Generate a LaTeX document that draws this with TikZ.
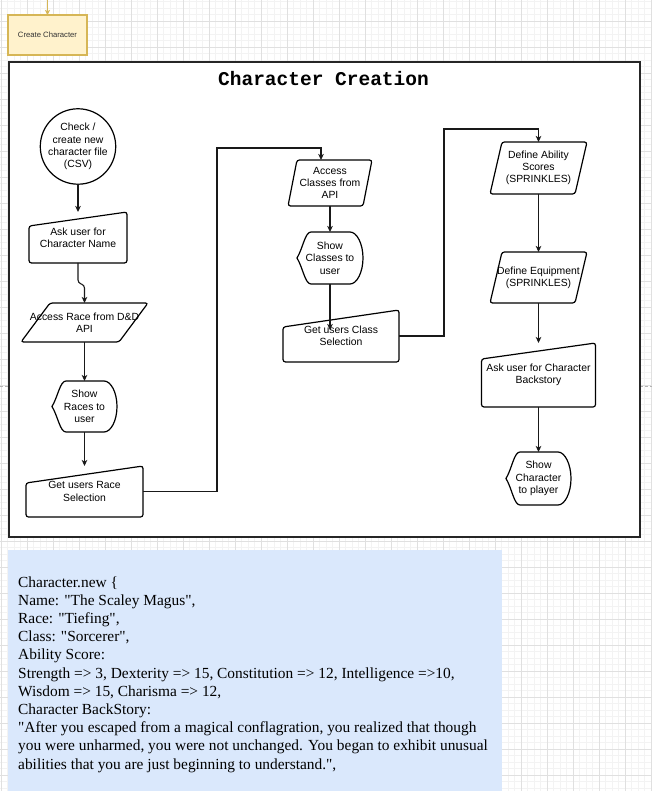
\documentclass[tikz,border=0pt]{standalone}
\usepackage{fontspec}
\usepackage{xcolor}
\usetikzlibrary{positioning}
\usetikzlibrary{calc}
\usetikzlibrary{arrows.meta}
\newfontfamily\flowfont{Liberation Sans}
\newfontfamily\notefont{Liberation Serif}
\newfontfamily\codefont{Liberation Mono}
\definecolor{gridminor}{HTML}{F3F3F3}
\definecolor{gridmajor}{HTML}{E0E0E0}
\definecolor{startfill}{HTML}{FFF2CC}
\definecolor{startline}{HTML}{D6B656}
\definecolor{notefill}{HTML}{DAE8FC}
% outlines drawn round a named node (its box is the shape's bounding box)
\newcommand{\manualinput}[2]{\draw[shp] (#1.south west) -- ([yshift=-#2pt]#1.north west) -- (#1.north east) -- (#1.south east) -- cycle;}
\newcommand{\dataio}[2]{\draw[shp] ([xshift=#2pt]#1.north west) -- (#1.north east) -- ([xshift=-#2pt]#1.south east) -- (#1.south west) -- cycle;}
\newcommand{\displayout}[1]{\draw[shp, sharp corners] (#1.west) .. controls ([xshift=6pt,yshift=10pt]#1.west) and ([xshift=8pt]#1.north west) .. ([xshift=14pt]#1.north west) -- ([xshift=-13pt]#1.north east) .. controls ([xshift=-6pt]#1.north east) and ([yshift=14pt]#1.east) .. (#1.east) .. controls ([yshift=-14pt]#1.east) and ([xshift=-6pt]#1.south east) .. ([xshift=-13pt]#1.south east) -- ([xshift=14pt]#1.south west) .. controls ([xshift=8pt]#1.south west) and ([xshift=6pt,yshift=-10pt]#1.west) .. (#1.west) -- cycle;}

\begin{document}
\begin{tikzpicture}[x=1pt,y=-1pt,
		box/.style={inner sep=0pt, outer sep=0pt, align=center, text=black, font=\flowfont\fontsize{10.4}{12.3}\selectfont},
		shp/.style={draw=black, line width=1.2pt, rounded corners=2.5pt},
		arr/.style={draw=black!90, line width=1.1pt, -{Stealth[length=6pt,width=5.5pt,inset=1.5pt]}}]
		\useasboundingbox (0,0) rectangle (652,791);
		\fill[white] (0,0) rectangle (652,791);
		% Draw grid
		\foreach \k in {0,...,100} \draw[gridminor, line width=0.8pt] (1+6.5*\k,0) -- (1+6.5*\k,791);
		\foreach \k in {0,...,121} \draw[gridminor, line width=0.8pt] (0,1.5+6.5*\k) -- (652,1.5+6.5*\k);
		\foreach \k in {0,...,25} \draw[gridmajor, line width=0.8pt] (1+26*\k,0) -- (1+26*\k,791);
		\foreach \k in {0,...,29} \draw[gridmajor, line width=0.8pt] (0,21+26*\k) -- (652,21+26*\k);
		\draw[black!30, dash pattern=on 3pt off 2pt, line width=0.6pt] (0,386) -- (652,386);
		% Start box
		\coordinate (entry) at (47.5,-2);
		\node[box, fill=startfill, draw=startline, line width=1.2pt, minimum width=79pt, minimum height=40pt,
			font=\flowfont\fontsize{7.7}{9}\selectfont, text=black!80] (create) at (47.5,35) {Create Character};
		\draw[startline, line width=1.5pt, -{Stealth[length=5pt,width=5pt,inset=1.2pt]}] (entry) -- (create.north);
		% Container
		\node[box, fill=white, draw=black!85, line width=1.5pt, minimum width=631pt, minimum height=475pt] (frame) at (324.5,299.5) {};
		\node[anchor=base, inner sep=0pt, font=\codefont\bfseries\fontsize{19.5}{22}\selectfont] (title) at (323.5,85.5) {Character Creation};
		% Race column
		\node[box, circle, draw=black, line width=1.2pt, minimum size=67pt] (check) at (78,146.5) {Check /\\create new\\character file\\(CSV)};
		\node[box, minimum width=98pt, minimum height=51pt] (askname) at (78,237.5) {Ask user for\\Character Name};
		\node[box, minimum width=127pt, minimum height=39pt] (race) at (84.5,322.5) {Access Race from D\&D\\API};
		\node[box, minimum width=65pt, minimum height=51pt] (races) at (84.5,406.5) {Show\\Races to\\user};
		\node[box, minimum width=117pt, minimum height=51pt] (racesel) at (84.5,491.5) {Get users Race\\Selection};
		\manualinput{askname}{14}
		\dataio{race}{29}
		\displayout{races}
		\manualinput{racesel}{17}
		% Class column
		\node[box, minimum width=84pt, minimum height=46pt] (cls) at (330,183) {Access\\Classes from\\API};
		\node[box, minimum width=66pt, minimum height=52pt] (showcls) at (330,258) {Show\\Classes to\\user};
		\node[box, minimum width=116pt, minimum height=52pt] (clssel) at (341,336) {Get users Class\\Selection};
		\dataio{cls}{9}
		\displayout{showcls}
		\manualinput{clssel}{17}
		% Character column
		\node[box, minimum width=97pt, minimum height=52pt] (abil) at (538.5,168) {Define Ability\\Scores\\(SPRINKLES)};
		\node[box, minimum width=97pt, minimum height=51pt] (equip) at (538.5,277.5) {Define Equipment\\(SPRINKLES)};
		\node[box, minimum width=114pt, minimum height=64pt] (backstory) at (538.5,375) {Ask user for Character\\Backstory};
		\node[box, minimum width=65pt, minimum height=53pt] (showchar) at (538.5,478.5) {Show\\Character\\to player};
		\dataio{abil}{12}
		\dataio{equip}{12}
		\manualinput{backstory}{16}
		\displayout{showchar}
		% Connectors
		\coordinate (turnA) at (217,148);
		\coordinate (turnB) at (444,129);
		\coordinate (clsin) at (330,330);
		\draw[arr] (check) -- (askname.north);
		\draw[arr, rounded corners=3pt] (askname.south) -- ([yshift=-20pt]askname.south) -- ([yshift=18pt]race.north) -- (race.north);
		\draw[arr] (race.south) -- (races.north);
		\draw[arr] (races.south) -- (racesel.north);
		\draw[arr] (racesel.east) -| (turnA) -| ([xshift=-9pt]cls.north);
		\draw[arr] (cls.south) -- (showcls.north);
		\draw[arr] (showcls.south) -- (clsin);
		\draw[arr] (clssel.east) -| (turnB) -| (abil.north);
		\draw[arr] (abil.south) -- (equip.north);
		\draw[arr] (equip.south) -- (backstory.north);
		\draw[arr] (backstory.south) -- (showchar.north);
		% Character note
		\fill[notefill] (8,550) rectangle (502,791);
		\node[anchor=north west, inner sep=0pt, align=left, font=\notefont\fontsize{15.4}{18.2}\selectfont] (charnew) at (18,576.3) {Character.new \{\\
			Name: "The Scaley Magus",\\
			Race: "Tiefing",\\
			Class: "Sorcerer",\\
			Ability Score:\\
			Strength => 3, Dexterity => 15, Constitution => 12, Intelligence =>10,\\
			Wisdom => 15, Charisma => 12,\\
			Character BackStory:\\
			"After you escaped from a magical conflagration, you realized that though\\
			you were unharmed, you were not unchanged. You began to exhibit unusual\\
			abilities that you are just beginning to understand.",};
	\end{tikzpicture}
\end{document}
